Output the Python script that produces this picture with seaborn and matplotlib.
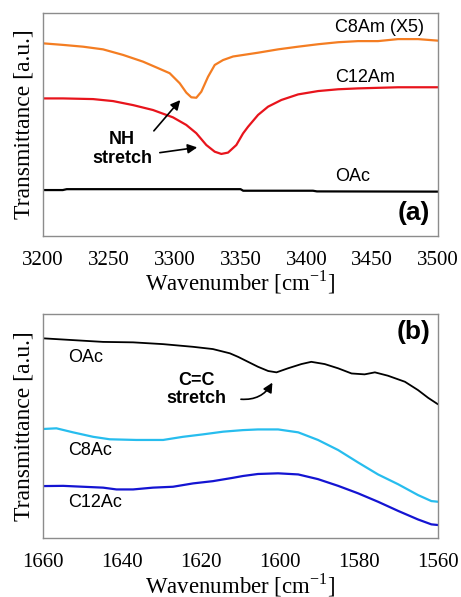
import numpy as np
import matplotlib
matplotlib.use("Agg")
import matplotlib.pyplot as plt
import seaborn as sns

sns.set_style("white")
plt.rcParams['font.family'] = ['Liberation Serif', 'DejaVu Serif']
plt.rcParams['mathtext.fontset'] = 'custom'
plt.rcParams['mathtext.rm'] = 'Liberation Serif'
plt.rcParams['text.color'] = 'black'
plt.rcParams['axes.labelcolor'] = 'black'

# panel (a): NH stretch region
wn_c8am = [3200, 3215.2, 3230.4, 3245.6, 3260.8, 3275.9, 3286.1, 3296.2, 3303.8, 3308.8, 3312.6, 3316.4,
           3320.2, 3325.3, 3330.4, 3336.7, 3344.3, 3363.3, 3378.5, 3393.7, 3408.9, 3424.1, 3439.2,
           3454.4, 3469.6, 3484.8, 3500]
t_c8am = [86.4, 85.7, 84.9, 83.7, 81.2, 78.2, 75.6, 73.0, 68.5, 64.3, 62.2, 62.0,
          64.7, 71.4, 76.7, 78.9, 80.5, 82.2, 83.7, 84.9, 86.0, 86.9, 87.4,
          87.4, 88.3, 88.3, 87.6]

wn_c12am = [3200, 3215.2, 3238.0, 3253.2, 3268.4, 3283.5, 3298.7, 3308.8, 3316.4, 3324.0, 3330.4, 3335.4,
            3340.5, 3346.8, 3351.9, 3355.7, 3363.3, 3370.9, 3381.0, 3393.7, 3408.9, 3424.1, 3439.2,
            3469.6, 3500]
t_c12am = [61.7, 61.7, 61.4, 60.5, 58.7, 56.5, 53.2, 49.8, 46.1, 40.8, 37.8, 36.8,
           37.4, 40.8, 46.0, 49.0, 54.3, 58.0, 61.0, 63.5, 65.0, 65.8, 66.2,
           66.7, 66.7]

wn_oac_a = [3200, 3215, 3218, 3350, 3352, 3405, 3408, 3500]
t_oac_a = [20.6, 20.6, 21.0, 21.0, 20.3, 20.3, 20.0, 19.9]

# panel (b): C=C stretch region
wn_oac_b = [1660, 1652.4, 1644.8, 1637.2, 1629.6, 1622.0, 1617.0, 1612.7, 1610.6, 1608.1, 1605.6, 1603.0,
            1600.9, 1598.0, 1594.6, 1592.1, 1588.7, 1585.3, 1581.9, 1578.6, 1576.0, 1572.7, 1568.4,
            1565.1, 1562.5, 1560]
t_oac_b = [89.2, 88.4, 87.6, 87.4, 86.6, 85.4, 84.4, 82.5, 80.9, 78.7, 76.5, 74.6,
           74.0, 75.8, 77.7, 78.7, 77.7, 75.8, 73.5, 73.1, 74.0, 72.5, 69.8,
           66.1, 62.6, 59.7]

wn_c8ac = [1660, 1656.6, 1652.4, 1647.3, 1643.1, 1636.4, 1629.6, 1624.6, 1619.5, 1614.4, 1609.4, 1605.6,
           1600.5, 1595.4, 1590.4, 1585.3, 1580.3, 1575.2, 1570.1, 1565.1, 1561.7, 1560]
t_c8ac = [48.7, 49.0, 47.2, 45.2, 44.1, 43.8, 43.8, 45.2, 46.3, 47.5, 48.2, 48.5,
          48.5, 47.2, 43.8, 39.3, 33.8, 28.4, 24.0, 19.2, 16.5, 16.2]

wn_c12ac = [1660, 1654.9, 1649.9, 1644.8, 1641.4, 1637.2, 1632.2, 1627.1, 1622.0, 1617.0, 1611.9, 1609.4,
            1605.6, 1600.5, 1595.4, 1590.4, 1585.3, 1580.3, 1575.2, 1570.1, 1565.1, 1561.7, 1560]
t_c12ac = [23.2, 23.3, 22.9, 22.5, 21.7, 21.7, 22.5, 22.9, 24.4, 25.4, 26.9, 27.7,
           28.6, 28.9, 28.4, 26.3, 23.3, 20.0, 16.2, 12.1, 8.3, 6.1, 5.8]

xticks_a = [3200, 3250, 3300, 3350, 3400, 3450, 3500]
xticks_b = [1660, 1640, 1620, 1600, 1580, 1560]

sans = ['Liberation Sans', 'DejaVu Sans']
lw = 1.6
spine_col = "#8c8c8c"

fig = plt.figure(figsize=(4.61, 5.97), dpi=100)
ax1 = fig.add_axes([0.0933, 0.6047, 0.857, 0.3735])
ax2 = fig.add_axes([0.0933, 0.0988, 0.857, 0.375])

sns.lineplot(x=wn_c8am, y=t_c8am, ax=ax1, color="#f47d22", lw=lw)
sns.lineplot(x=wn_c12am, y=t_c12am, ax=ax1, color="#e8141c", lw=lw)
sns.lineplot(x=wn_oac_a, y=t_oac_a, ax=ax1, color="black", lw=lw)

sns.lineplot(x=wn_oac_b, y=t_oac_b, ax=ax2, color="black", lw=1.3)
sns.lineplot(x=wn_c8ac, y=t_c8ac, ax=ax2, color="#27bdee", lw=lw)
sns.lineplot(x=wn_c12ac, y=t_c12ac, ax=ax2, color="#1414d2", lw=lw)

ax1.set_xlim(3200, 3500)
ax1.set_xticks(xticks_a)
ax2.set_xlim(1660, 1560)
ax2.set_xticks(xticks_b)
ax2.set_xticks(np.arange(1650, 1560, -20), minor=True)

for ax in (ax1, ax2):
    ax.set_ylim(0, 100)
    ax.set_yticks([])
    for s in ax.spines.values():
        s.set_color(spine_col)
        s.set_linewidth(1.0)
    ax.tick_params(axis='x', which='both', direction='in', color=spine_col, labelcolor='black',
                   length=5, width=1.0, labelsize=15, pad=11)
    ax.set_xlabel("Wavenumber [cm$^{-1}$]", fontsize=16.5, labelpad=-1)
    ax.set_ylabel("Transmittance [a.u.]", fontsize=17, labelpad=6)

# labels panel (a)
ax1.text(3422, 93.7, "C8Am (X5)", family=sans, fontsize=13, va='center')
ax1.text(3422, 71.3, "C12Am", family=sans, fontsize=13, va='center')
ax1.text(3422, 26.5, "OAc", family=sans, fontsize=13, va='center')
ax1.text(3260, 39, "NH\nstretch", family=sans, fontsize=13, fontweight='bold',
         ha='center', va='center', linespacing=1.1)
ax1.annotate("", xy=(3305.6, 61.9), xytext=(3282.8, 46.2),
             arrowprops=dict(arrowstyle='-|>', color='black', lw=1.2, mutation_scale=14))
ax1.annotate("", xy=(3319.2, 39.9), xytext=(3286.6, 37.2),
             arrowprops=dict(arrowstyle='-|>', color='black', lw=1.2, mutation_scale=14))
ax1.text(3494, 10.3, "(a)", family=sans, fontsize=19, fontweight='bold', ha='right', va='center')

# labels panel (b)
ax2.text(1653.7, 80.8, "OAc", family=sans, fontsize=13, va='center')
ax2.text(1653.7, 39.3, "C8Ac", family=sans, fontsize=13, va='center')
ax2.text(1653.7, 15.8, "C12Ac", family=sans, fontsize=13, va='center')
ax2.text(1621.1, 66.3, "C=C\nstretch", family=sans, fontsize=13, fontweight='bold',
         ha='center', va='center', linespacing=1.1)
ax2.annotate("", xy=(1601.6, 70.5), xytext=(1610.6, 62.1),
             arrowprops=dict(arrowstyle='-|>', color='black', lw=1.2, mutation_scale=14,
                             connectionstyle="arc3,rad=0.35"))
ax2.text(1562, 92, "(b)", family=sans, fontsize=19, fontweight='bold', ha='right', va='center')

fig.savefig("out.png", dpi=100)
